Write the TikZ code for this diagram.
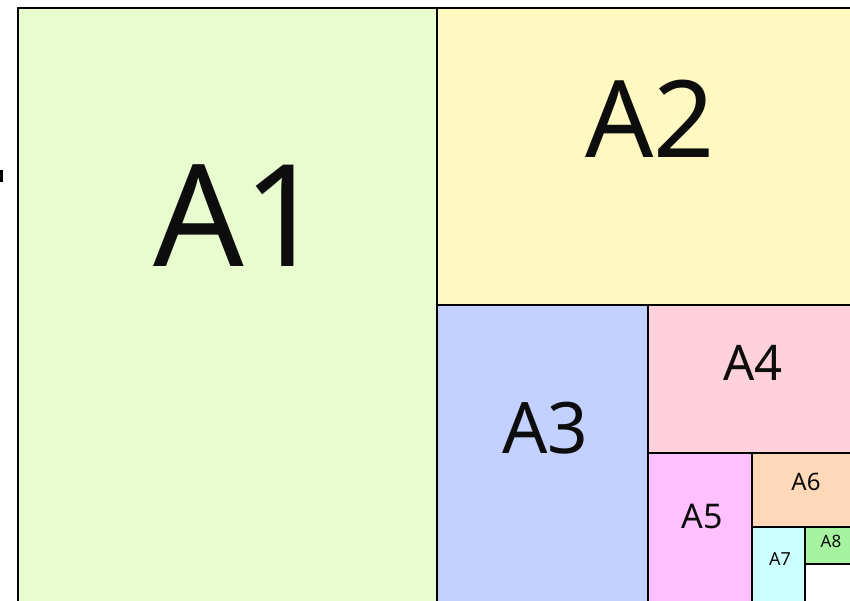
\documentclass[tikz,border=0pt]{standalone}
\usepackage{fontspec}
\setmainfont{Noto Sans}
\definecolor{cA1}{HTML}{E9FCCF}
\definecolor{cA2}{HTML}{FFF8C0}
\definecolor{cA3}{HTML}{C2D1FF}
\definecolor{cA4}{HTML}{FFD1DC}
\definecolor{cA5}{HTML}{FFC0FF}
\definecolor{cA6}{HTML}{FFD9B8}
\definecolor{cA7}{HTML}{CCFFFF}
\definecolor{cA8}{HTML}{A6F4A0}
\tikzset{
  sheet/.style={draw=black, line width=2.5pt},
  lbl/.style={anchor=base, inner sep=0pt, text=black!95}
}
\begin{document}
\begin{tikzpicture}[x=1pt,y=-1pt]
\useasboundingbox (0,0) rectangle (850,600);
\fill[white] (0,0) rectangle (850,600);
\begin{scope}
\clip (0,0) rectangle (850,600);
\fill[black] (0,170) rectangle (2.5,182);
\path[sheet, fill=cA1] (18,8) rectangle (437,606);
\path[sheet, fill=cA2] (437,8) rectangle (1030,305);
\path[sheet, fill=cA3] (437,305) rectangle (648,606);
\path[sheet, fill=cA4] (648,305) rectangle (944,453);
\path[sheet, fill=cA5] (648,453) rectangle (752,606);
\path[sheet, fill=cA6] (752,453) rectangle (900,527);
\path[sheet, fill=cA7] (752,527) rectangle (805,606);
\path[sheet, fill=cA8] (805,527) rectangle (879,564);
\end{scope}
\node[lbl, font=\fontsize{142}{150}\selectfont] (t1) at (239,266) {A1};
\node[lbl, font=\fontsize{107}{112}\selectfont] (t2) at (650,157) {A2};
\node[lbl, font=\fontsize{71}{75}\selectfont] (t3) at (545,453) {A3};
\node[lbl, font=\fontsize{49}{52}\selectfont] (t4) at (753,380) {A4};
\node[lbl, font=\fontsize{34}{37}\selectfont] (t5) at (702,528) {A5};
\node[lbl, font=\fontsize{24}{26}\selectfont] (t6) at (806,490) {A6};
\node[lbl, font=\fontsize{18}{20}\selectfont] (t7) at (780,565) {A7};
\node[lbl, font=\fontsize{17}{19}\selectfont] (t8) at (831,547) {A8};
\end{tikzpicture}
\end{document}
